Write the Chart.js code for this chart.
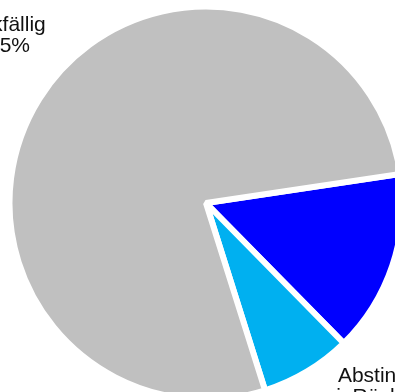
<!DOCTYPE html>
<html>
<head>
<meta charset="utf-8">
<title>Pie</title>
<script src="https://cdn.jsdelivr.net/npm/chart.js@4.4.1/dist/chart.umd.min.js"></script>
<style>
    html, body { margin: 0; padding: 0; background: #fff; }
    #pieChart { display: block; }
</style>
</head>
<body>
<canvas id="pieChart" width="395" height="392"></canvas>
<script>
// data
var categories = ['Abstinent', 'Abstinent i. Rückfall', 'Rückfällig'];
var shares = [15, 7.5, 77.5];
var percentLabels = ['15%', '7,5%', '77,5%'];
var sliceColors = ['#0000ff', '#00b0f0', '#c0c0c0'];

(function () {
    // label lines per slice (the blue one sits outside the visible frame)
    var labelLines = [
        [categories[0], percentLabels[0]],
        ['Abstinent', 'i. Rückfall'],
        [categories[2], percentLabels[2]]
    ];
    // where each label sits: angle shift from slice middle (deg), distance as radius factor
    var labelShift = [0, -12.65, 7.2];
    var labelDist = [1.3, 1.2955, 1.351];

    var outsideLabels = {
        id: 'outsideLabels',
        afterDatasetsDraw: function (chart) {
            var ctx = chart.ctx;
            var arcs = chart.getDatasetMeta(0).data;
            ctx.save();
            ctx.font = '21px "Liberation Sans", Arial, sans-serif';
            ctx.fillStyle = '#111';
            ctx.textAlign = 'center';
            ctx.textBaseline = 'middle';
            arcs.forEach(function (arc, i) {
                var p = arc.getProps(['x', 'y', 'startAngle', 'endAngle', 'outerRadius'], true);
                var mid = (p.startAngle + p.endAngle) / 2 + labelShift[i] * Math.PI / 180;
                var r = p.outerRadius * labelDist[i];
                var cx = p.x + Math.cos(mid) * r;
                var cy = p.y + Math.sin(mid) * r;
                var lines = labelLines[i];
                var lh = 21;
                var top = cy - (lines.length - 1) * lh / 2;
                lines.forEach(function (t, k) {
                    ctx.fillText(t, cx, top + k * lh);
                });
            });
            ctx.restore();
        }
    };

    function initPieChart() {
        var ctx = document.getElementById('pieChart').getContext('2d');
        var data = {
            labels: categories,
            datasets: [
                {
                    data: shares,
                    backgroundColor: sliceColors,
                    borderColor: '#ffffff',
                    borderWidth: 6,
                    hoverOffset: 0
                }
            ]
        };
        var options = {
            responsive: false,
            animation: false,
            rotation: 81.5,
            radius: 196.5,
            layout: {
                padding: { left: 17, right: 0, top: 14, bottom: 0 }
            },
            plugins: {
                legend: { display: false },
                tooltip: { enabled: false },
                title: { display: false }
            }
        };
        return new Chart(ctx, {
            type: 'pie',
            data: data,
            options: options,
            plugins: [outsideLabels]
        });
    }

    initPieChart();
})();
</script>
</body>
</html>
